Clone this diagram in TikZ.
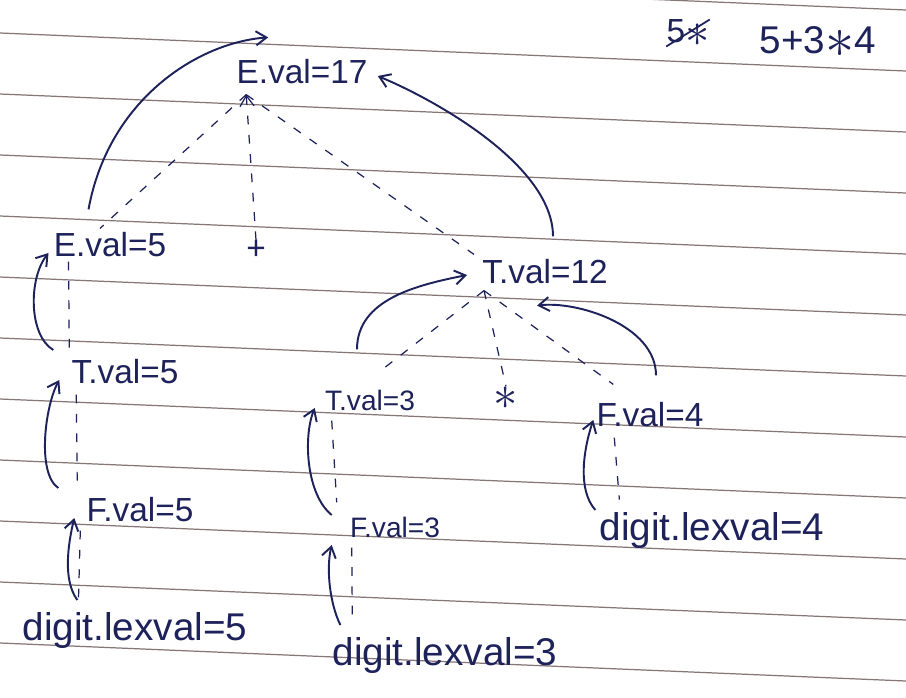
\documentclass[tikz,border=0pt]{standalone}
\usepackage{fontspec}
\setmainfont{Liberation Sans}
\usetikzlibrary{arrows.meta}

\definecolor{ink}{RGB}{30,34,90}
\definecolor{rulecol}{RGB}{135,118,118}

\newcommand{\hstar}{\raisebox{-0.1em}{\scalebox{1.6}{$\ast$}}}

\begin{document}
\begin{tikzpicture}[
    x=0.02cm, y=-0.02cm, % pixel units, y downwards
    >={Straight Barb[length=6pt,width=8pt]}, % hand-drawn arrow tip
    val/.style={inner sep=0pt, text=ink, font=\fontsize{19}{22}\selectfont},
    small/.style={val, font=\fontsize{16}{19}\selectfont},
    lex/.style={val, font=\fontsize{22}{25}\selectfont},
    tree/.style={ink, dash pattern=on 5pt off 6pt, line width=0.7pt}, % parse tree edges
    flow/.style={ink, ->, line width=1.1pt}, % value flow
    ruled/.style={rulecol, line width=0.7pt},
  ]

  % Papier
  \useasboundingbox (0,0) rectangle (906,697);
  \fill[white] (0,0) rectangle (906,697);
  \clip (0,0) rectangle (906,697);
  \foreach \k in {-1,...,10}
  \draw[ruled] (0,{33+61*\k}) -- (906,{71+61*\k});

  % Ausdruck
  \node[val] (old) at (688,33) {5\hstar};
  \draw[ink, line width=1pt] (old.south west) -- (old.north east);
  \node[lex] (expr) at (818,42) {5+3\hstar4};

  % Knoten
  \node[val] (E0) at (302,72) {E.val=17};
  \node[val] (E1) at (110,245) {E.val=5};
  \node[val] (plus) at (256,250) {+};
  \node[val] (T1) at (545,272) {T.val=12};
  \node[val] (T2) at (125,372) {T.val=5};
  \node[small] (T3) at (370,400) {T.val=3};
  \node[val] (star) at (506,398) {\hstar};
  \node[val] (F1) at (650,415) {F.val=4};
  \node[val] (F2) at (140,510) {F.val=5};
  \node[small] (F3) at (395,527) {F.val=3};
  \node[lex] (d1) at (712,530) {digit.lexval=4};
  \node[lex] (d2) at (135,630) {digit.lexval=5};
  \node[lex] (d3) at (445,655) {digit.lexval=3};

  % Verzweigungspunkte
  \coordinate (r) at ([shift={(10,10)}]E0.south west);
  \coordinate (t) at ([shift={(2,6)}]T1.south west);

  % Baum
  \draw[tree] (r) -- ([shift={(-10,-4)}]E1.north);
  \draw[tree, <-] (r) -- (plus.north);
  \draw[tree] (r) -- ([shift={(-8,-5)}]T1.north west);
  \draw[tree] ([shift={(15,4)}]E1.south west) -- ([shift={(-2,-10)}]T2.north west);
  \draw[tree] ([shift={(5,10)}]T2.south west) -- ([shift={(-9,-8)}]F2.north west);
  \draw[tree] ([shift={(-6,8)}]F2.south west) -- ([shift={(56,-8)}]d2.north west);
  \draw[tree] (t) -- ([shift={(15,-22)}]T3.north);
  \draw[tree] (t) -- (star.north);
  \draw[tree] (t) -- ([shift={(17,-18)}]F1.north west);
  \draw[tree] ([shift={(7,10)}]T3.south west) -- ([shift={(-13,-14)}]F3.north west);
  \draw[tree] ([shift={(2,10)}]F3.south west) -- ([shift={(20,-12)}]d3.north west);
  \draw[tree] ([shift={(18,10)}]F1.south west) -- ([shift={(20,-12)}]d1.north west);

  % Werte nach oben
  \draw[flow] ([shift={(35,-23)}]E1.north west) .. controls +(20,-110) and +(-70,5) .. ([shift={(32,-22)}]E0.north west);
  \draw[flow] ([shift={(8,-23)}]T1.north) .. controls +(0,-70) and +(60,25) .. ([shift={(10,4)}]E0.east);
  \draw[flow] ([shift={(-18,-22)}]T2.west) .. controls +(-25,-15) and +(-20,25) .. ([shift={(-5,8)}]E1.west);
  \draw[flow] ([shift={(-28,-22)}]F2.west) .. controls +(-22,-15) and +(-14,25) .. ([shift={(-12,8)}]T2.west);
  \draw[flow] ([shift={(55,-30)}]d2.west) .. controls +(-15,-20) and +(-6,25) .. ([shift={(-12,8)}]F2.west);
  \draw[flow] ([shift={(-13,-40)}]T3.north) .. controls +(0,-50) and +(-50,10) .. ([shift={(-15,3)}]T1.west);
  \draw[flow] ([shift={(6,-27)}]F1.north) .. controls +(0,-50) and +(40,-5) .. ([shift={(-8,21)}]T1.south);
  \draw[flow] ([shift={(-18,-12)}]F3.west) .. controls +(-25,-20) and +(-12,30) .. ([shift={(-10,8)}]T3.west);
  \draw[flow] ([shift={(8,-30)}]d3.west) .. controls +(-10,-20) and +(-6,25) .. ([shift={(-18,18)}]F3.west);
  \draw[flow] ([shift={(-4,-20)}]d1.west) .. controls +(-18,-20) and +(-10,30) .. ([shift={(-3,5)}]F1.west);
\end{tikzpicture}
\end{document}
